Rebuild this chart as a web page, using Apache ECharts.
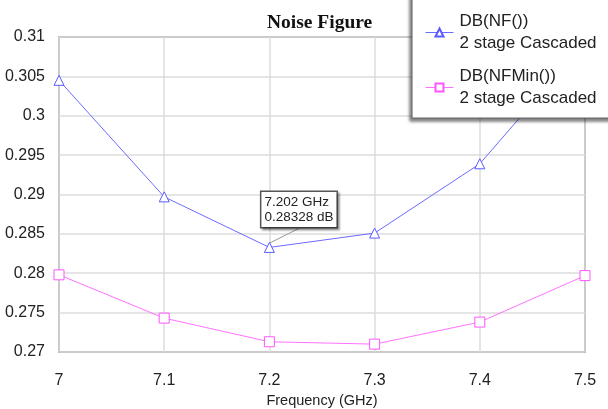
<!DOCTYPE html>
<html>
<head>
<meta charset="utf-8">
<script src="https://cdn.jsdelivr.net/npm/echarts@6/dist/echarts.min.js"></script>
<style>
  html, body { margin: 0; padding: 0; background: #fff; }
  #chart { width: 608px; height: 409px; }
</style>
</head>
<body>
<div id="chart"></div>
<script>
// frequency points (GHz)
const freqs = [7.0, 7.1, 7.2, 7.3, 7.4, 7.5];
// DB(NF()) 2 stage Cascaded
const nfValues = [0.3045, 0.2897, 0.28328, 0.2851, 0.2939, 0.3093];
// DB(NFMin()) 2 stage Cascaded
const nfMinValues = [0.2798, 0.2743, 0.2713, 0.2710, 0.2738, 0.2797];
const seriesNames = ['DB(NF())\n2 stage Cascaded', 'DB(NFMin())\n2 stage Cascaded'];
const markerIndex = 2;
const markerFreq = 7.202;

const font = '"Liberation Sans", Arial, sans-serif';
const chart = echarts.init(document.getElementById('chart'));

const nfData = freqs.map((f, i) => {
  if (i !== markerIndex) return [f, nfValues[i]];
  return {
    value: [f, nfValues[i]],
    label: {
      show: true,
      formatter: markerFreq + ' GHz\n' + nfValues[i] + ' dB',
      position: 'top',
      fontFamily: font,
      fontSize: 13.5,
      lineHeight: 15,
      color: '#222',
      backgroundColor: '#fff',
      borderColor: '#555',
      borderWidth: 1.5,
      padding: [3, 3, 2, 3],
      shadowColor: 'rgba(0,0,0,0.35)',
      shadowOffsetX: 2,
      shadowOffsetY: 2,
      shadowBlur: 2,
      align: 'left'
    },
    labelLine: { show: true, lineStyle: { color: '#999', width: 1 } }
  };
});

chart.setOption({
  animation: false,
  title: {
    text: 'Noise Figure',
    left: 262,
    top: 8,
    textStyle: { fontFamily: '"Liberation Serif", "Times New Roman", serif', fontSize: 19.5, fontWeight: 'bold', color: '#111' }
  },
  grid: {
    left: 59, right: 23, top: 37, bottom: 57,
    outerBoundsMode: 'none',
    show: true, borderColor: '#777', borderWidth: 1.5
  },
  legend: {
    orient: 'vertical',
    left: 412,
    top: -12,
    padding: [25, 60, 11, 13],
    itemGap: 16,
    itemWidth: 28,
    itemHeight: 10,
    backgroundColor: '#fff',
    borderColor: '#666',
    borderWidth: 1,
    shadowColor: 'rgba(0,0,0,0.5)',
    shadowBlur: 3,
    shadowOffsetX: -2,
    shadowOffsetY: 3,
    lineStyle: { width: 1 },
    textStyle: { fontFamily: font, fontSize: 17, lineHeight: 22, color: '#222', verticalAlign: 'top', padding: [-6, 0, 0, 1] },
    data: seriesNames
  },
  xAxis: {
    type: 'value',
    min: 7, max: 7.5, interval: 0.1,
    name: 'Frequency (GHz)',
    nameLocation: 'middle',
    nameGap: 40,
    nameTextStyle: { fontFamily: font, fontSize: 14.5, color: '#222' },
    axisLine: { show: false },
    axisTick: { show: false },
    axisLabel: { fontFamily: font, fontSize: 16, color: '#222', margin: 21 },
    splitLine: { lineStyle: { color: '#ddd', width: 1.5 } }
  },
  yAxis: {
    type: 'value',
    min: 0.27, max: 0.31, interval: 0.005,
    axisLine: { show: false },
    axisTick: { show: false },
    axisLabel: { fontFamily: font, fontSize: 16, color: '#222', margin: 14 },
    splitLine: { lineStyle: { color: '#ddd', width: 1.5 } }
  },
  series: [
    {
      name: seriesNames[0],
      type: 'line',
      data: nfData,
      symbol: 'triangle',
      symbolSize: 10,
      showAllSymbol: true,
      color: '#5a5aff',
      lineStyle: { color: '#6a6aff', width: 1 },
      itemStyle: { color: '#fff', borderColor: '#5a5aff', borderWidth: 1 },
      labelLayout: { dx: -8, dy: -10 },
      z: 3
    },
    {
      name: seriesNames[1],
      type: 'line',
      data: freqs.map((f, i) => [f, nfMinValues[i]]),
      symbol: 'rect',
      symbolSize: 10,
      showAllSymbol: true,
      color: '#ff55ff',
      lineStyle: { color: '#ff70ff', width: 1 },
      itemStyle: { color: '#fff', borderColor: '#ff55ff', borderWidth: 1 },
      z: 3
    }
  ]
});
</script>
</body>
</html>
